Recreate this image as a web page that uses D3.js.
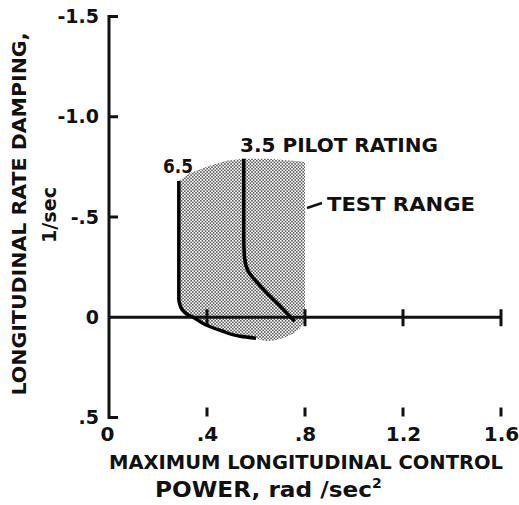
<!DOCTYPE html>
<html>
<head>
<meta charset="utf-8">
<script src="https://cdn.jsdelivr.net/npm/d3@7"></script>
<style>
  body { margin: 0; background: #fff; }
  text { font-family: "DejaVu Sans", sans-serif; font-weight: bold; fill: #111; }
</style>
</head>
<body>
<div id="chart"></div>
<script>
// data
var xTicks = [0, 0.4, 0.8, 1.2, 1.6];
var xTickLabels = ["0", ".4", ".8", "1.2", "1.6"];
var yTicks = [-1.5, -1.0, -0.5, 0, 0.5];
var yTickLabels = ["-1.5", "-1.0", "-.5", "0", ".5"];

// pilot rating 6.5 boundary
var r65X = [0.285, 0.285, 0.285, 0.290, 0.300, 0.318, 0.343, 0.390, 0.465, 0.535, 0.600];
var r65Y = [-0.68, -0.30, -0.09, -0.06, -0.035, -0.015, 0.0, 0.035, 0.07, 0.095, 0.105];
// pilot rating 3.5 boundary
var r35X = [0.550, 0.550, 0.553, 0.568, 0.600, 0.645, 0.695, 0.742, 0.758];
var r35Y = [-0.79, -0.40, -0.30, -0.23, -0.18, -0.12, -0.06, 0.0, 0.02];
// test range (shaded) outline, from the top of the 6.5 line round to the end of it
var testX = [0.285, 0.33, 0.41, 0.48, 0.55, 0.65, 0.80, 0.80, 0.795, 0.78, 0.755, 0.72, 0.68, 0.64, 0.600];
var testY = [-0.68, -0.72, -0.755, -0.78, -0.79, -0.79, -0.775, 0.0, 0.03, 0.055, 0.08, 0.10, 0.115, 0.12, 0.105];

var W = 519, H = 505;

var svg = d3.select("#chart").append("svg")
  .attr("width", W)
  .attr("height", H);

var x = d3.scaleLinear().domain([0, 1.6]).range([109, 501]);
var y = d3.scaleLinear().domain([-1.5, 0.5]).range([16.5, 417.5]);

// stipple pattern
var defs = svg.append("defs");
var pat = defs.append("pattern")
  .attr("id", "dots")
  .attr("patternUnits", "userSpaceOnUse")
  .attr("width", 3.2)
  .attr("height", 3.2);
pat.append("circle").attr("cx", 0.8).attr("cy", 0.8).attr("r", 0.8).attr("fill", "#2a2a2a");
pat.append("circle").attr("cx", 2.4).attr("cy", 2.4).attr("r", 0.8).attr("fill", "#2a2a2a");

// shaded region: outline points then back along the 6.5 curve
var area = [];
testX.forEach(function (d, i) { area.push([d, testY[i]]); });
for (var i = r65X.length - 2; i >= 1; i--) area.push([r65X[i], r65Y[i]]);

var lineC = d3.line()
  .x(function (d) { return x(d[0]); })
  .y(function (d) { return y(d[1]); })
  .curve(d3.curveLinearClosed);

svg.append("path")
  .attr("d", lineC(area))
  .attr("fill", "url(#dots)")
  .attr("stroke", "none");

// axes
var ax = svg.append("g").attr("stroke", "#111").attr("stroke-width", 3).attr("fill", "none");

ax.append("line")
  .attr("x1", x(0)).attr("x2", x(0))
  .attr("y1", y(-1.5) - 1.5).attr("y2", y(0.5) + 1.5);
// y ticks all point right
[-1.5, -1.0, -0.5, 0.5].forEach(function (v) {
  ax.append("line").attr("x1", x(0)).attr("x2", x(0) + 9).attr("y1", y(v)).attr("y2", y(v));
});
// zero line
ax.append("line")
  .attr("x1", x(0)).attr("x2", x(1.6))
  .attr("y1", y(0)).attr("y2", y(0));
xTicks.slice(1).forEach(function (v) {
  ax.append("line").attr("x1", x(v)).attr("x2", x(v)).attr("y1", y(0) - 8).attr("y2", y(0) + 9);
  ax.append("line").attr("x1", x(v)).attr("x2", x(v)).attr("y1", y(0.5) - 10).attr("y2", y(0.5) - 1);
});

// tick labels via d3 axes
var yAxis = d3.axisLeft(y)
  .tickValues(yTicks)
  .tickSize(0)
  .tickPadding(10)
  .tickFormat(function (d, i) { return yTickLabels[i]; });
var gy = svg.append("g").attr("transform", "translate(" + x(0) + ",0)").call(yAxis);
gy.select(".domain").remove();
gy.selectAll("text").style("font-size", "19px").style("font-family", "DejaVu Sans").style("font-weight", "bold").attr("fill", "#111");

var xAxis = d3.axisBottom(x)
  .tickValues(xTicks)
  .tickSize(0)
  .tickPadding(9)
  .tickFormat(function (d, i) { return xTickLabels[i]; });
var gx = svg.append("g").attr("transform", "translate(0," + y(0.5) + ")").call(xAxis);
gx.select(".domain").remove();
gx.selectAll("text").style("font-size", "20px").style("font-family", "DejaVu Sans").style("font-weight", "bold").attr("fill", "#111");
gx.selectAll(".tick").filter(function (d) { return d === 0; }).select("text").attr("x", -2);

// curves
var line = d3.line()
  .x(function (d) { return x(d[0]); })
  .y(function (d) { return y(d[1]); })
  .curve(d3.curveMonotoneY);

svg.append("path")
  .attr("d", line(r65X.map(function (d, i) { return [d, r65Y[i]]; })))
  .attr("fill", "none").attr("stroke", "#000").attr("stroke-width", 3.5);
svg.append("path")
  .attr("d", line(r35X.map(function (d, i) { return [d, r35Y[i]]; })))
  .attr("fill", "none").attr("stroke", "#000").attr("stroke-width", 3.5);

// annotations
function label(t, x0, base, len, size) {
  return svg.append("text")
    .attr("x", x0).attr("y", base)
    .attr("textLength", len).attr("lengthAdjust", "spacingAndGlyphs")
    .style("font-size", size + "px")
    .text(t);
}
label("6.5", 163, 173, 30, 20);
label("3.5  PILOT RATING", 240, 152, 198, 20);
label("TEST RANGE", 327, 211, 148, 20);
svg.append("line")
  .attr("x1", 307).attr("y1", 208).attr("x2", 322).attr("y2", 203)
  .attr("stroke", "#111").attr("stroke-width", 2.5);

// axis titles
label("MAXIMUM LONGITUDINAL CONTROL", 109, 469, 394, 20);
var t2 = svg.append("text")
  .attr("x", 155).attr("y", 497)
  .style("font-size", "21px");
t2.append("tspan").attr("textLength", 217).attr("lengthAdjust", "spacingAndGlyphs").text("POWER, rad /sec");
t2.append("tspan").attr("dy", -9).style("font-size", "14px").text("2");

svg.append("text")
  .attr("transform", "translate(26,214) rotate(-90)")
  .attr("text-anchor", "middle")
  .attr("textLength", 363).attr("lengthAdjust", "spacingAndGlyphs")
  .style("font-size", "20px")
  .text("LONGITUDINAL RATE DAMPING,");
svg.append("text")
  .attr("transform", "translate(56,215) rotate(-90)")
  .attr("text-anchor", "middle")
  .attr("textLength", 56).attr("lengthAdjust", "spacingAndGlyphs")
  .style("font-size", "20px")
  .text("1/sec");
</script>
</body>
</html>
